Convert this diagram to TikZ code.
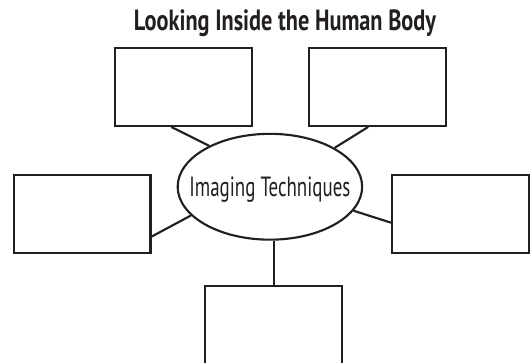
\documentclass[tikz,border=0pt]{standalone}
\usepackage{fontspec}
\setmainfont{PT Sans}
\usepackage{tikz}
\usetikzlibrary{shapes.geometric, calc}
\definecolor{ink-dark}{HTML}{231F20}
\tikzset{
  topic-box/.style={
    draw=ink-dark, fill=white, line width=1.6pt,
    minimum width=3.62cm, minimum height=2.06cm, inner sep=0pt
  },
  hub-node/.style={
    ellipse, draw=ink-dark, fill=white, line width=1.6pt,
    minimum width=4.88cm, minimum height=2.80cm, inner sep=0pt,
    text height=0.62cm, text depth=0.08cm, text=ink-dark
  },
  spoke-edge/.style={line width=1.6pt, draw=ink-dark}
}
\begin{document}
\begin{tikzpicture}
  \useasboundingbox (0, 0) rectangle (14.02, 9.60);

  % Título
  \node[text=ink-dark, anchor=base, inner sep=0pt] (title) at (7.54, 8.80)
    {\resizebox{7.99cm}{0.55cm}{\bfseries Looking Inside the Human Body}};

  % Nó central e caixas
  \node[hub-node] (img) at (7.14, 4.66)
    {\makebox[0pt]{\resizebox{4.26cm}{0.52cm}{Imaging Techniques}}};

  \node[topic-box] (topL) at (4.86, 7.30) {};
  \node[topic-box] (topR) at (9.99, 7.30) {};
  \node[topic-box] (midL) at (2.17, 3.93) {};
  \node[topic-box] (midR) at (12.18, 3.93) {};
  \node[topic-box] (bot) at (7.24, 1.01) {};

  % Ligações
  \draw[spoke-edge] ($(topL.south)+(-0.33, 0)$) -- (img.146);
  \draw[spoke-edge] ($(topR.south)+(-0.25, 0)$) -- (img.31);
  \draw[spoke-edge] ($(midL.east)+(0, -0.59)$) -- (img.200);
  \draw[spoke-edge] ($(midR.west)+(0, -0.22)$) -- (img.344);
  \draw[spoke-edge] (img.south -| bot.north) -- (bot.north);
\end{tikzpicture}
\end{document}
